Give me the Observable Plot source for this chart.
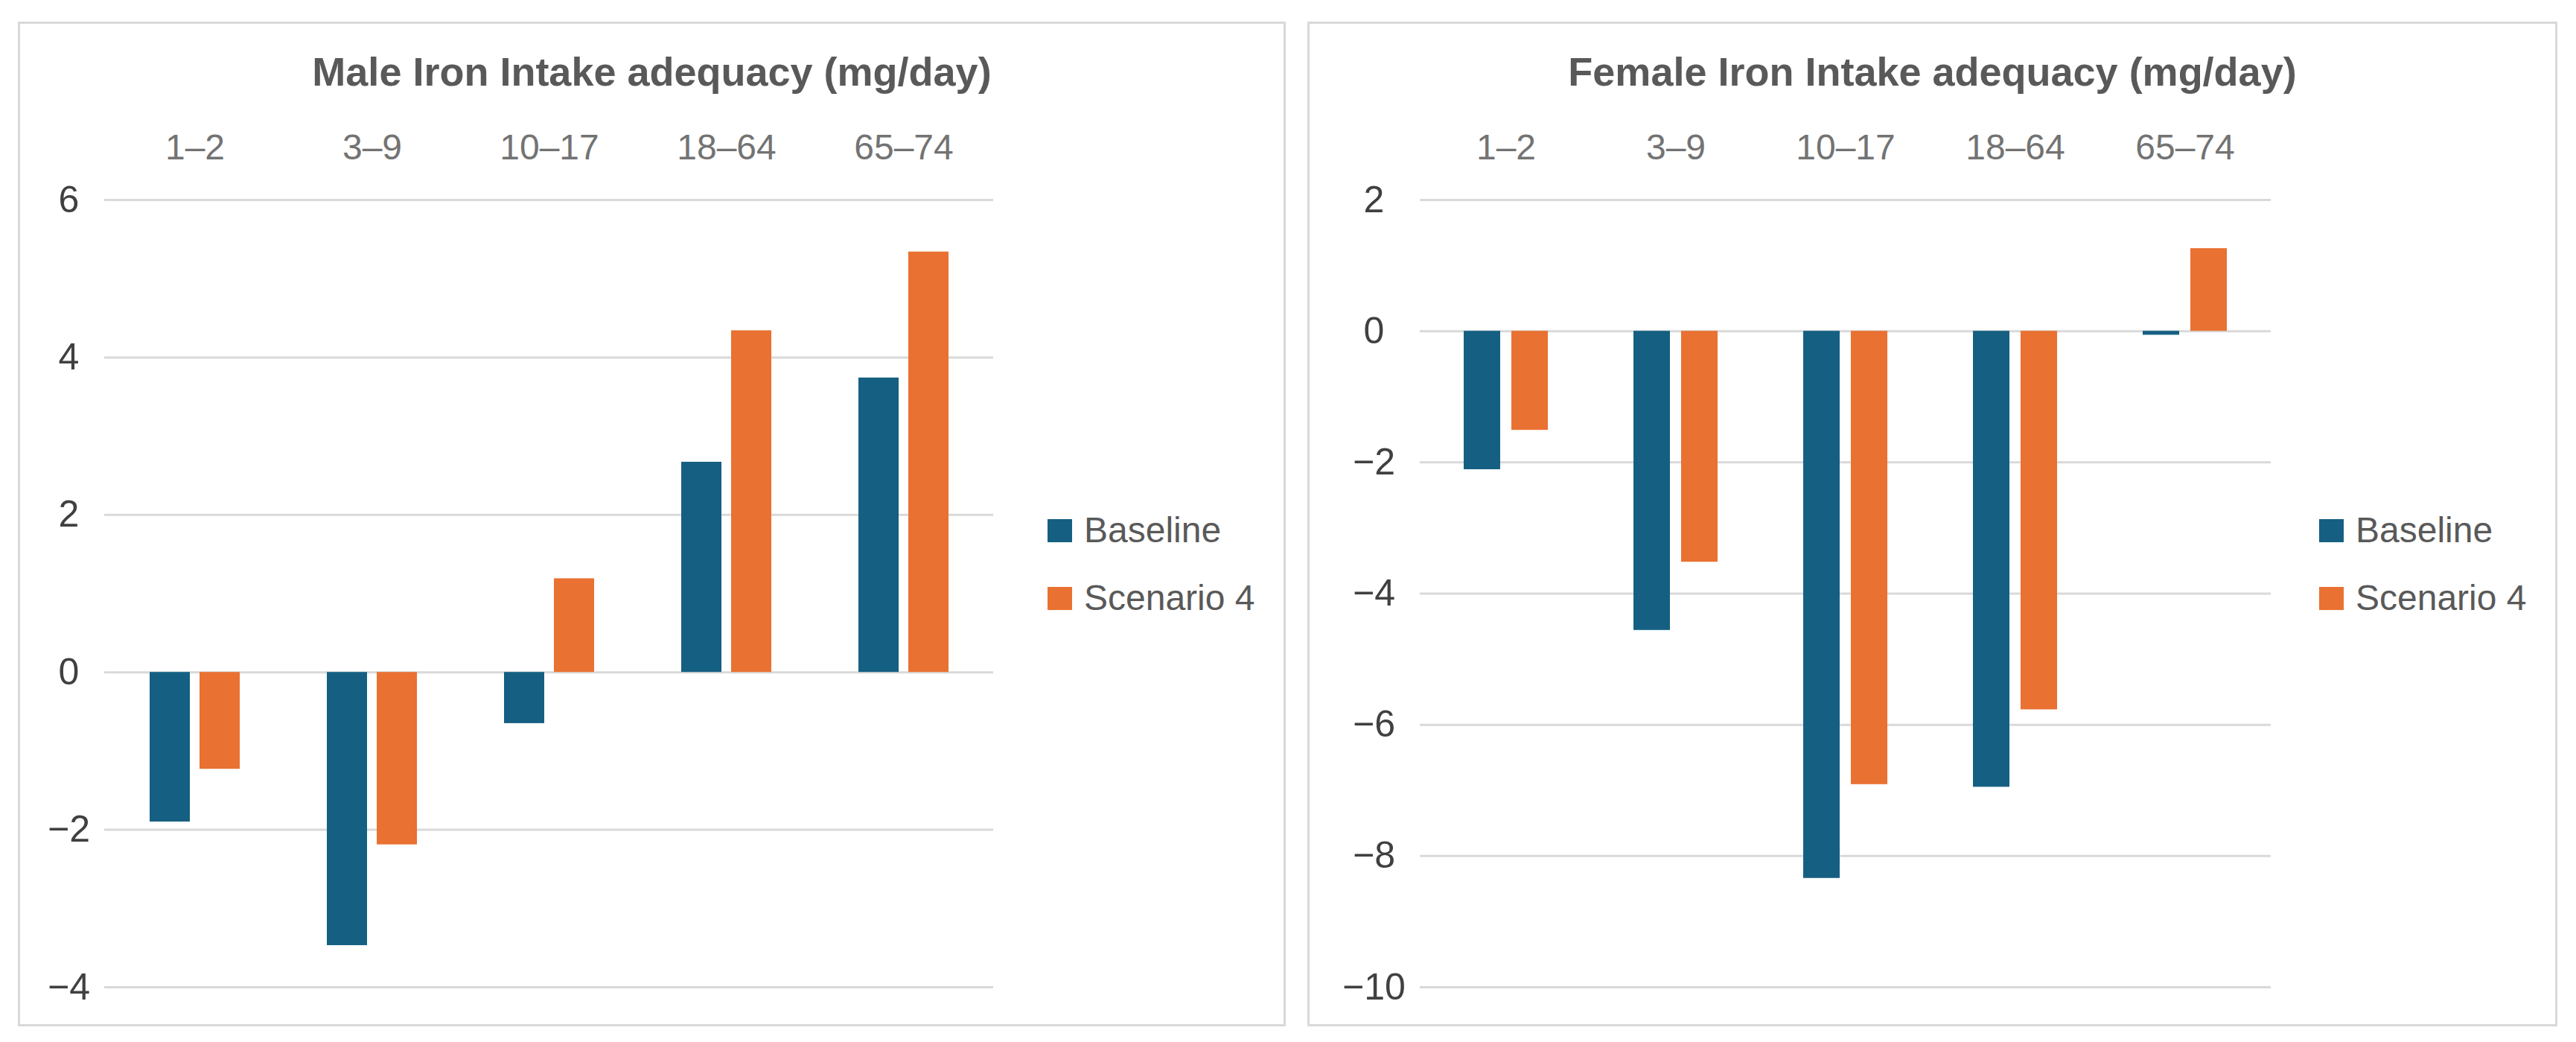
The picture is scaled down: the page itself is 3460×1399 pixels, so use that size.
<!DOCTYPE html>
<html>
<head>
<meta charset="utf-8">
<script src="https://cdn.jsdelivr.net/npm/d3@7"></script>
<script src="https://cdn.jsdelivr.net/npm/@observablehq/plot@0.6"></script>
<style>
  html, body { margin: 0; padding: 0; background: #ffffff; }
  body { width: 3460px; height: 1399px; position: relative; overflow: hidden; font-family: "Liberation Sans", Arial, sans-serif; }
  .panel { position: absolute; background: #ffffff; }
  .panel .border { position: absolute; left: 0; top: 0; right: 0; bottom: 0; border: 3px solid #d9d9d9; box-sizing: border-box; pointer-events: none; }
  .panel .title { position: absolute; left: 0; width: 100%; text-align: center; top: 40px; font-size: 54px; line-height: 54px; font-weight: bold; color: #595959; white-space: nowrap; }
  .panel svg { position: absolute; left: 0; top: 0; }
  .legend-item { position: absolute; font-size: 48px; line-height: 48px; color: #595959; white-space: nowrap; }
  .legend-item .sw { position: absolute; left: 0; top: 0; width: 33px; height: 31px; }
  .legend-item .lab { position: absolute; top: -9px; }
</style>
</head>
<body>
<script>
// ---- data ----
const categories = ["1–2", "3–9", "10–17", "18–64", "65–74"];
const seriesNames = ["Baseline", "Scenario 4"];
const seriesColors = ["#156082", "#E97132"];

const maleBaseline = [-1.90, -3.47, -0.65, 2.67, 3.74];
const maleScenario4 = [-1.23, -2.19, 1.19, 4.34, 5.34];
const maleTicks = [-4, -2, 0, 2, 4, 6];

const femaleBaseline = [-2.11, -4.56, -8.34, -6.95, -0.06];
const femaleScenario4 = [-1.51, -3.52, -6.91, -5.77, 1.26];
const femaleTicks = [-10, -8, -6, -4, -2, 0, 2];

const maleTitle = "Male Iron Intake adequacy (mg/day)";
const femaleTitle = "Female Iron Intake adequacy (mg/day)";

function makePanel(cfg) {
  const panel = document.createElement("div");
  panel.className = "panel";
  panel.style.left = cfg.left + "px";
  panel.style.top = cfg.top + "px";
  panel.style.width = cfg.width + "px";
  panel.style.height = cfg.height + "px";
  document.body.appendChild(panel);

  const rows = [];
  categories.forEach((c, i) => {
    rows.push({category: c, series: seriesNames[0], value: cfg.base[i]});
    rows.push({category: c, series: seriesNames[1], value: cfg.scen[i]});
  });
  const baseRows = rows.filter(d => d.series === seriesNames[0]);
  const scenRows = rows.filter(d => d.series === seriesNames[1]);

  const chart = Plot.plot({
    width: cfg.width,
    height: cfg.height,
    marginLeft: cfg.marginLeft,
    marginRight: cfg.marginRight,
    marginTop: cfg.marginTop,
    marginBottom: cfg.marginBottom,
    style: {fontFamily: "Liberation Sans, Arial, sans-serif", background: "transparent", overflow: "visible"},
    x: {domain: categories, paddingInner: cfg.paddingInner, paddingOuter: cfg.paddingInner / 2},
    y: {domain: cfg.domain},
    color: {domain: seriesNames, range: seriesColors},
    marks: [
      Plot.ruleY(cfg.ticks, {stroke: "#d9d9d9", strokeWidth: 3}),
      Plot.barY(baseRows, {x: "category", y: "value", fill: "series", insetRight: cfg.inset}),
      Plot.barY(scenRows, {x: "category", y: "value", fill: "series", insetLeft: cfg.inset}),
      Plot.axisX({anchor: "top", tickSize: 0, tickPadding: 55, fontSize: 48, fill: "#737373", label: null}),
      Plot.axisY({ticks: cfg.ticks, tickSize: 0, tickPadding: cfg.yPad, textAnchor: "middle", fontSize: 50, fill: "#404040", label: null})
    ]
  });
  panel.appendChild(chart);

  const title = document.createElement("div");
  title.className = "title";
  title.textContent = cfg.title;
  panel.appendChild(title);

  seriesNames.forEach((name, i) => {
    const item = document.createElement("div");
    item.className = "legend-item";
    item.style.left = cfg.legendLeft + "px";
    item.style.top = (668 + i * 91) + "px";
    const sw = document.createElement("div");
    sw.className = "sw";
    sw.style.background = seriesColors[i];
    const lab = document.createElement("div");
    lab.className = "lab";
    lab.style.left = cfg.legendTextOffset + "px";
    lab.textContent = name;
    item.appendChild(sw);
    item.appendChild(lab);
    panel.appendChild(item);
  });

  const border = document.createElement("div");
  border.className = "border";
  panel.appendChild(border);
}

makePanel({
  left: 24, top: 29, width: 1703, height: 1349,
  marginLeft: 116, marginRight: 393, marginTop: 239, marginBottom: 53,
  paddingInner: 0.4933, inset: 67,
  domain: [-4, 6], ticks: maleTicks, yPad: 48,
  base: maleBaseline, scen: maleScenario4, title: maleTitle,
  legendLeft: 1383, legendTextOffset: 49
});

makePanel({
  left: 1756, top: 29, width: 1679, height: 1349,
  marginLeft: 151, marginRight: 385, marginTop: 239, marginBottom: 53,
  paddingInner: 0.5035, inset: 64,
  domain: [-10, 2], ticks: femaleTicks, yPad: 62,
  base: femaleBaseline, scen: femaleScenario4, title: femaleTitle,
  legendLeft: 1359, legendTextOffset: 49
});
</script>
</body>
</html>
